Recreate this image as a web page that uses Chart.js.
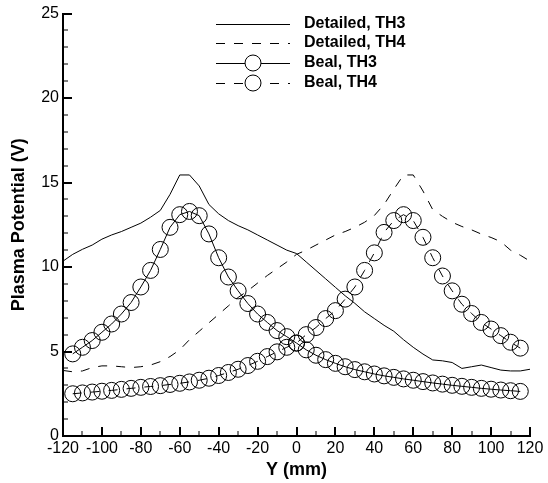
<!DOCTYPE html>
<html>
<head>
<meta charset="utf-8">
<script src="https://cdn.jsdelivr.net/npm/chart.js@4.4.1/dist/chart.umd.min.js"></script>
<style>
html, body { margin: 0; padding: 0; background: #fff; }
</style>
</head>
<body>
<canvas id="grafico-potencial" width="548" height="483"></canvas>
<script>
// Datos
const xDetallado = [-120,-115,-110,-105,-100,-95,-90,-85,-80,-75,-70,-65,-60,-55,-50,-45,-40,-35,-30,-25,-20,-15,-10,-5,0,
                    5,10,15,20,25,30,35,40,45,50,55,60,65,70,75,80,85,90,95,100,105,110,115,120];
const detalladoTH3 = [10.35,10.75,11.05,11.3,11.65,11.9,12.1,12.35,12.6,12.95,13.35,14.3,15.45,15.45,14.8,13.7,13.15,12.75,12.45,12.2,11.9,11.6,11.3,11.0,10.8,
                      10.3,9.8,9.3,8.8,8.3,7.85,7.35,6.95,6.55,6.2,5.7,5.25,4.85,4.5,4.45,4.35,4.0,4.1,4.2,4.05,3.9,3.85,3.85,3.95];
const detalladoTH4 = [3.88,3.8,3.85,4.05,4.15,4.15,4.1,4.05,4.1,4.2,4.4,4.7,5.1,5.7,6.2,6.7,7.2,7.7,8.2,8.6,9.05,9.5,9.9,10.3,10.75,
                      11.0,11.3,11.6,11.9,12.1,12.35,12.65,13.05,13.7,14.6,15.45,15.45,14.5,13.4,13.0,12.65,12.4,12.2,11.95,11.75,11.5,11.0,10.7,10.35];

const xBeal = [-115,-110,-105,-100,-95,-90,-85,-80,-75,-70,-65,-60,-55,-50,-45,-40,-35,-30,-25,-20,-15,-10,-5,0,
               5,10,15,20,25,30,35,40,45,50,55,60,65,70,75,80,85,90,95,100,105,110,115];
const bealTH3 = [4.86,5.25,5.65,6.14,6.63,7.22,7.9,8.82,9.8,11.04,12.35,13.1,13.29,13.04,11.96,10.55,9.41,8.59,7.84,7.22,6.72,6.24,5.88,5.5,
                 5.1,4.78,4.52,4.3,4.1,3.93,3.8,3.67,3.56,3.47,3.38,3.3,3.22,3.14,3.07,3.0,2.94,2.88,2.82,2.77,2.72,2.68,2.64];
const bealTH4 = [2.5,2.55,2.6,2.65,2.7,2.76,2.82,2.88,2.93,2.98,3.05,3.12,3.2,3.3,3.42,3.58,3.76,3.95,4.17,4.42,4.7,4.98,5.25,5.5,
                 6.0,6.42,6.95,7.42,8.1,8.82,9.8,10.84,12.05,12.75,13.1,12.75,11.76,10.55,9.47,8.59,7.8,7.25,6.72,6.33,5.94,5.55,5.2];

const nombresSeries = ['Detailed, TH3', 'Detailed, TH4', 'Beal, TH3', 'Beal, TH4'];

const fuente = "'Liberation Sans', Arial, sans-serif";

function puntos(xs, ys) {
    return xs.map(function (x, i) { return { x: x, y: ys[i] }; });
}

// ticks hacia adentro, como en el original
const ticksInternos = {
    id: 'ticksInternos',
    afterDraw(chart) {
        const ctx = chart.ctx;
        const area = chart.chartArea;
        const ex = chart.scales.x;
        const ey = chart.scales.y;
        ctx.save();
        ctx.strokeStyle = '#000';
        for (let v = -120; v <= 120; v += 10) {
            const px = Math.round(ex.getPixelForValue(v));
            const mayor = v % 20 === 0;
            ctx.lineWidth = mayor ? 2 : 1;
            ctx.beginPath();
            ctx.moveTo(px, area.bottom);
            ctx.lineTo(px, area.bottom - (mayor ? 9 : 5));
            ctx.stroke();
        }
        for (let v = 0; v <= 25; v += 1) {
            const py = Math.round(ey.getPixelForValue(v));
            const mayor = v % 5 === 0;
            ctx.lineWidth = mayor ? 2 : 1;
            ctx.beginPath();
            ctx.moveTo(area.left, py);
            ctx.lineTo(area.left + (mayor ? 9 : 5), py);
            ctx.stroke();
        }
        ctx.restore();
    }
};

// leyenda dentro del area del grafico
const leyendaInterna = {
    id: 'leyendaInterna',
    afterDraw(chart) {
        const ctx = chart.ctx;
        const filas = [24, 43, 63, 83];
        chart.data.datasets.forEach(function (ds, i) {
            const y = filas[i];
            ctx.save();
            ctx.strokeStyle = '#000';
            ctx.lineWidth = 1;
            ctx.setLineDash(ds.borderDash || []);
            ctx.beginPath();
            ctx.moveTo(216, y + 0.5);
            ctx.lineTo(290, y + 0.5);
            ctx.stroke();
            ctx.setLineDash([]);
            if (ds.pointRadius > 0) {
                ctx.beginPath();
                ctx.arc(253, y, 8, 0, Math.PI * 2);
                ctx.fillStyle = '#fff';
                ctx.fill();
                ctx.stroke();
            }
            ctx.fillStyle = '#000';
            ctx.font = 'bold 16px ' + fuente;
            ctx.textBaseline = 'middle';
            ctx.textAlign = 'left';
            ctx.fillText(ds.label, 304, y);
            ctx.restore();
        });
    }
};

const ctx = document.getElementById('grafico-potencial').getContext('2d');
const grafico = new Chart(ctx, {
    type: 'scatter',
    data: {
        datasets: [
            { label: nombresSeries[0], data: puntos(xDetallado, detalladoTH3), showLine: true, borderColor: '#000', borderWidth: 1, pointRadius: 0, tension: 0 },
            { label: nombresSeries[1], data: puntos(xDetallado, detalladoTH4), showLine: true, borderColor: '#000', borderWidth: 1, borderDash: [9, 9], pointRadius: 0, tension: 0 },
            { label: nombresSeries[2], data: puntos(xBeal, bealTH3), showLine: true, borderColor: '#000', borderWidth: 1, pointRadius: 8,
              pointBorderColor: '#000', pointBorderWidth: 1, pointBackgroundColor: 'rgba(0,0,0,0)', tension: 0 },
            { label: nombresSeries[3], data: puntos(xBeal, bealTH4), showLine: true, borderColor: '#000', borderWidth: 1, borderDash: [9, 9], pointRadius: 8,
              pointBorderColor: '#000', pointBorderWidth: 1, pointBackgroundColor: 'rgba(0,0,0,0)', tension: 0 }
        ]
    },
    options: {
        responsive: false,
        animation: false,
        layout: { padding: { left: 0, right: 18, top: 11, bottom: 0 } },
        plugins: {
            legend: { display: false },
            tooltip: { enabled: false }
        },
        scales: {
            x: {
                type: 'linear',
                min: -120, max: 120,
                grid: { display: false, drawTicks: false },
                border: { display: true, color: '#000', width: 2 },
                ticks: { stepSize: 20, color: '#000', padding: 3, maxRotation: 0, font: { family: fuente, size: 16 } },
                title: { display: true, text: 'Y (mm)', color: '#000', padding: { top: 0, bottom: 2 }, font: { family: fuente, size: 18, weight: 'bold' } },
                afterFit: function (escala) { escala.height = 47; }
            },
            y: {
                min: 0, max: 25,
                grid: { display: false, drawTicks: false },
                border: { display: true, color: '#000', width: 2 },
                ticks: { stepSize: 5, color: '#000', padding: 4, font: { family: fuente, size: 16 } },
                title: { display: true, text: 'Plasma Potential (V)', color: '#000', padding: { top: 8, bottom: 0 }, font: { family: fuente, size: 18, weight: 'bold' } },
                afterFit: function (escala) { escala.width = 63; }
            }
        }
    },
    plugins: [ticksInternos, leyendaInterna]
});
</script>
</body>
</html>
